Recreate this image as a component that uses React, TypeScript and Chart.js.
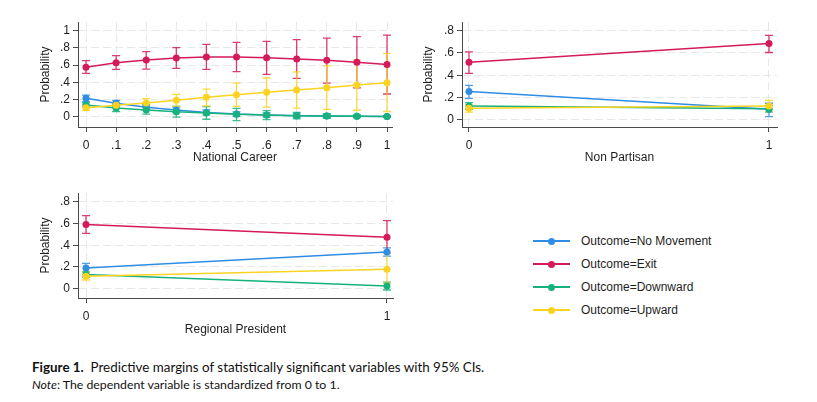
import React, { useEffect, useRef } from "react";
import { Chart, registerables } from "chart.js";
Chart.register(...registerables);

// ---------- Data ----------
const outcomeLabels = ["Outcome=No Movement", "Outcome=Exit", "Outcome=Downward", "Outcome=Upward"];
const outcomeColors = ["#2f8de4", "#d41a5b", "#17b27c", "#fbd320"];

// Panel 1: National Career
const ncX = [0, 0.1, 0.2, 0.3, 0.4, 0.5, 0.6, 0.7, 0.8, 0.9, 1];
const ncNoMove = [0.213, 0.155, 0.11, 0.078, 0.05, 0.031, 0.02, 0.012, 0.008, 0.004, 0.002];
const ncNoMoveLo = [0.175, 0.12, 0.08, 0.045, 0.02, 0.005, -0.005, -0.008, -0.008, -0.006, -0.004];
const ncNoMoveHi = [0.25, 0.19, 0.14, 0.11, 0.08, 0.057, 0.045, 0.032, 0.024, 0.014, 0.008];
const ncExit = [0.574, 0.628, 0.659, 0.682, 0.694, 0.694, 0.686, 0.671, 0.655, 0.632, 0.608];
const ncExitLo = [0.504, 0.55, 0.554, 0.562, 0.55, 0.523, 0.492, 0.446, 0.39, 0.335, 0.264];
const ncExitHi = [0.651, 0.709, 0.756, 0.802, 0.841, 0.864, 0.876, 0.895, 0.913, 0.93, 0.948];
const ncDown = [0.136, 0.1, 0.078, 0.058, 0.043, 0.027, 0.019, 0.012, 0.008, 0.004, 0.001];
const ncDownLo = [0.11, 0.06, 0.03, -0.005, -0.03, -0.045, -0.035, -0.025, -0.018, -0.01, -0.005];
const ncDownHi = [0.16, 0.14, 0.125, 0.12, 0.116, 0.097, 0.07, 0.05, 0.035, 0.02, 0.008];
const ncUp = [0.105, 0.132, 0.159, 0.19, 0.225, 0.256, 0.283, 0.31, 0.337, 0.368, 0.395];
const ncUpLo = [0.075, 0.1, 0.105, 0.12, 0.125, 0.12, 0.11, 0.1, 0.085, 0.075, 0.06];
const ncUpHi = [0.135, 0.165, 0.21, 0.26, 0.32, 0.39, 0.45, 0.52, 0.59, 0.66, 0.737];
const ncYTicks = [0, 0.2, 0.4, 0.6, 0.8, 1];

// Panel 2: Non Partisan
const npX = [0, 1];
const npNoMove = [0.254, 0.096];
const npNoMoveLo = [0.194, 0.03];
const npNoMoveHi = [0.31, 0.15];
const npExit = [0.516, 0.684];
const npExitLo = [0.418, 0.604];
const npExitHi = [0.61, 0.758];
const npDown = [0.125, 0.1];
const npDownLo = [0.096, 0.07];
const npDownHi = [0.155, 0.13];
const npUp = [0.104, 0.125];
const npUpLo = [0.07, 0.075];
const npUpHi = [0.14, 0.175];
const npYTicks = [0, 0.2, 0.4, 0.6, 0.8];

// Panel 3: Regional President
const rpX = [0, 1];
const rpNoMove = [0.19, 0.338];
const rpNoMoveLo = [0.15, 0.3];
const rpNoMoveHi = [0.233, 0.375];
const rpExit = [0.59, 0.474];
const rpExitLo = [0.509, 0.33];
const rpExitHi = [0.672, 0.626];
const rpDown = [0.13, 0.025];
const rpDownLo = [0.105, -0.012];
const rpDownHi = [0.155, 0.06];
const rpUp = [0.115, 0.178];
const rpUpLo = [0.08, 0.05];
const rpUpHi = [0.15, 0.326];
const rpYTicks = [0, 0.2, 0.4, 0.6, 0.8];

// ---------- helpers ----------
const fmt = (v: number) => {
  if (Math.abs(v) < 1e-9) return "0";
  if (Math.abs(v - 1) < 1e-9) return "1";
  return v.toFixed(1).replace(/^0/, "");
};

const FONT = "'Liberation Sans', Arial, sans-serif";
const AXIS_COLOR = "#4a4a4a";
const TEXT_COLOR = "#1e1e1e";
const GRID_COLOR = "#e8e8e8";

const errorBarPlugin = {
  id: "errbars",
  beforeDatasetsDraw(chart: any) {
    const { ctx } = chart;
    const xs = chart.scales.x;
    const ys = chart.scales.y;
    ctx.save();
    chart.data.datasets.forEach((ds: any) => {
      ctx.strokeStyle = ds.borderColor;
      ctx.globalAlpha = 0.85;
      ctx.lineWidth = 1.3;
      ds.data.forEach((pt: any, i: number) => {
        const px = xs.getPixelForValue(pt.x);
        const top = ys.getPixelForValue(ds.hi[i]);
        const bot = ys.getPixelForValue(ds.lo[i]);
        ctx.beginPath();
        ctx.moveTo(px, top);
        ctx.lineTo(px, bot);
        ctx.moveTo(px - 4, top);
        ctx.lineTo(px + 4, top);
        ctx.moveTo(px - 4, bot);
        ctx.lineTo(px + 4, bot);
        ctx.stroke();
      });
    });
    ctx.restore();
  },
};

type PanelCfg = {
  left: number;
  top: number;
  width: number;
  height: number;
  pad: { left: number; top: number; right: number; bottom: number };
  yW: number;
  xH: number;
  xs: number[];
  ys: number[][];
  lo: number[][];
  hi: number[][];
  xMin: number;
  xMax: number;
  yMin: number;
  yMax: number;
  yTicks: number[];
  xTitle: string;
};

const panels: PanelCfg[] = [
  {
    left: 0, top: 0, width: 400, height: 175,
    pad: { left: 38, top: 22, right: 8, bottom: 10 }, yW: 40, xH: 38,
    xs: ncX, ys: [ncNoMove, ncExit, ncDown, ncUp], lo: [ncNoMoveLo, ncExitLo, ncDownLo, ncUpLo],
    hi: [ncNoMoveHi, ncExitHi, ncDownHi, ncUpHi],
    xMin: -0.0266, xMax: 1.0166, yMin: -0.12, yMax: 1.101, yTicks: ncYTicks, xTitle: "National Career",
  },
  {
    left: 410, top: 0, width: 407, height: 175,
    pad: { left: 11, top: 22, right: 40, bottom: 10 }, yW: 41, xH: 38,
    xs: npX, ys: [npNoMove, npExit, npDown, npUp], lo: [npNoMoveLo, npExitLo, npDownLo, npUpLo],
    hi: [npNoMoveHi, npExitHi, npDownHi, npUpHi],
    xMin: -0.0233, xMax: 1.0267, yMin: -0.0627, yMax: 0.877, yTicks: npYTicks, xTitle: "Non Partisan",
  },
  {
    left: 0, top: 180, width: 400, height: 165,
    pad: { left: 38, top: 13, right: 7, bottom: 8 }, yW: 40, xH: 39,
    xs: rpX, ys: [rpNoMove, rpExit, rpDown, rpUp], lo: [rpNoMoveLo, rpExitLo, rpDownLo, rpUpLo],
    hi: [rpNoMoveHi, rpExitHi, rpDownHi, rpUpHi],
    xMin: -0.0266, xMax: 1.02, yMin: -0.0856, yMax: 0.88, yTicks: rpYTicks, xTitle: "Regional President",
  },
];

function Panel({ cfg }: { cfg: PanelCfg }) {
  const ref = useRef<HTMLCanvasElement | null>(null);
  useEffect(() => {
    if (!ref.current) return;
    const font = { family: FONT, size: 12 };
    const datasets = cfg.ys.map((vals, k) => ({
      label: outcomeLabels[k],
      data: cfg.xs.map((x, i) => ({ x, y: vals[i] })),
      lo: cfg.lo[k],
      hi: cfg.hi[k],
      borderColor: outcomeColors[k],
      backgroundColor: outcomeColors[k],
      pointBackgroundColor: outcomeColors[k],
      pointBorderColor: outcomeColors[k],
      pointRadius: 3.5,
      pointBorderWidth: 0,
      borderWidth: 1.5,
      tension: 0,
      order: 4 - k,
    }));
    const chart = new Chart(ref.current, {
      type: "line",
      data: { datasets } as any,
      options: {
        animation: false,
        responsive: false,
        maintainAspectRatio: false,
        layout: { padding: cfg.pad },
        plugins: { legend: { display: false }, tooltip: { enabled: false } },
        events: [],
        scales: {
          x: {
            type: "linear",
            min: cfg.xMin,
            max: cfg.xMax,
            afterBuildTicks: (s: any) => {
              s.ticks = cfg.xs.map((v) => ({ value: v }));
            },
            afterFit: (s: any) => {
              s.height = cfg.xH;
            },
            ticks: {
              callback: (v: any) => fmt(Number(v)),
              font,
              color: TEXT_COLOR,
              padding: 6,
              maxRotation: 0,
              autoSkip: false,
            },
            grid: {
              color: GRID_COLOR,
              lineWidth: 1,
              tickColor: AXIS_COLOR,
              tickLength: 5,
              drawTicks: true,
            },
            border: { display: true, color: AXIS_COLOR, width: 1, dash: [8, 4] },
            title: { display: true, text: cfg.xTitle, font, color: TEXT_COLOR, padding: 0 },
          },
          y: {
            type: "linear",
            min: cfg.yMin,
            max: cfg.yMax,
            afterBuildTicks: (s: any) => {
              s.ticks = cfg.yTicks.map((v) => ({ value: v }));
            },
            afterFit: (s: any) => {
              s.width = cfg.yW;
            },
            ticks: {
              callback: (v: any) => fmt(Number(v)),
              font,
              color: TEXT_COLOR,
              padding: 3,
              autoSkip: false,
            },
            grid: {
              color: GRID_COLOR,
              lineWidth: 1,
              tickColor: AXIS_COLOR,
              tickLength: 5,
              drawTicks: true,
            },
            border: { display: true, color: AXIS_COLOR, width: 1, dash: [8, 4] },
            title: { display: true, text: "Probability", font, color: TEXT_COLOR, padding: 0 },
          },
        },
      } as any,
      plugins: [errorBarPlugin],
    });
    return () => chart.destroy();
  }, [cfg]);
  return (
    <canvas
      ref={ref}
      width={cfg.width}
      height={cfg.height}
      style={{ position: "absolute", left: cfg.left, top: cfg.top, width: cfg.width, height: cfg.height }}
    />
  );
}

function Legend() {
  const rowsY = [241, 264, 287, 310];
  return (
    <>
      {outcomeLabels.map((label, i) => (
        <div key={label} style={{ position: "absolute", left: 533, top: rowsY[i] - 10, height: 20, width: 240 }}>
          <div
            style={{
              position: "absolute", left: 0, top: 9.25, width: 37, height: 1.5,
              background: outcomeColors[i],
            }}
          />
          <div
            style={{
              position: "absolute", left: 15, top: 6.5, width: 7, height: 7, borderRadius: "50%",
              background: outcomeColors[i],
            }}
          />
          <div
            style={{
              position: "absolute", left: 48, top: 0, lineHeight: "20px", fontSize: 12,
              fontFamily: FONT, color: TEXT_COLOR, whiteSpace: "nowrap",
            }}
          >
            {label}
          </div>
        </div>
      ))}
    </>
  );
}

export default function App() {
  return (
    <div
      style={{
        position: "absolute", left: 0, top: 0, width: 817, height: 402, background: "#fff",
        overflow: "hidden",
      }}
    >
      {panels.map((p, i) => (
        <Panel key={i} cfg={p} />
      ))}
      <Legend />
      <div
        style={{
          position: "absolute", left: 32, top: 358, fontFamily: "Lato, 'Noto Sans', sans-serif",
          fontSize: 13.4, color: "#111", whiteSpace: "nowrap", lineHeight: "18px",
        }}
      >
        <b>Figure 1.</b>&nbsp; Predictive margins of statistically significant variables with 95% CIs.
      </div>
      <div
        style={{
          position: "absolute", left: 32, top: 376, fontFamily: "Lato, 'Noto Sans', sans-serif",
          fontSize: 12.3, color: "#111", whiteSpace: "nowrap", lineHeight: "18px",
        }}
      >
        <i>Note</i>: The dependent variable is standardized from 0 to 1.
      </div>
    </div>
  );
}
